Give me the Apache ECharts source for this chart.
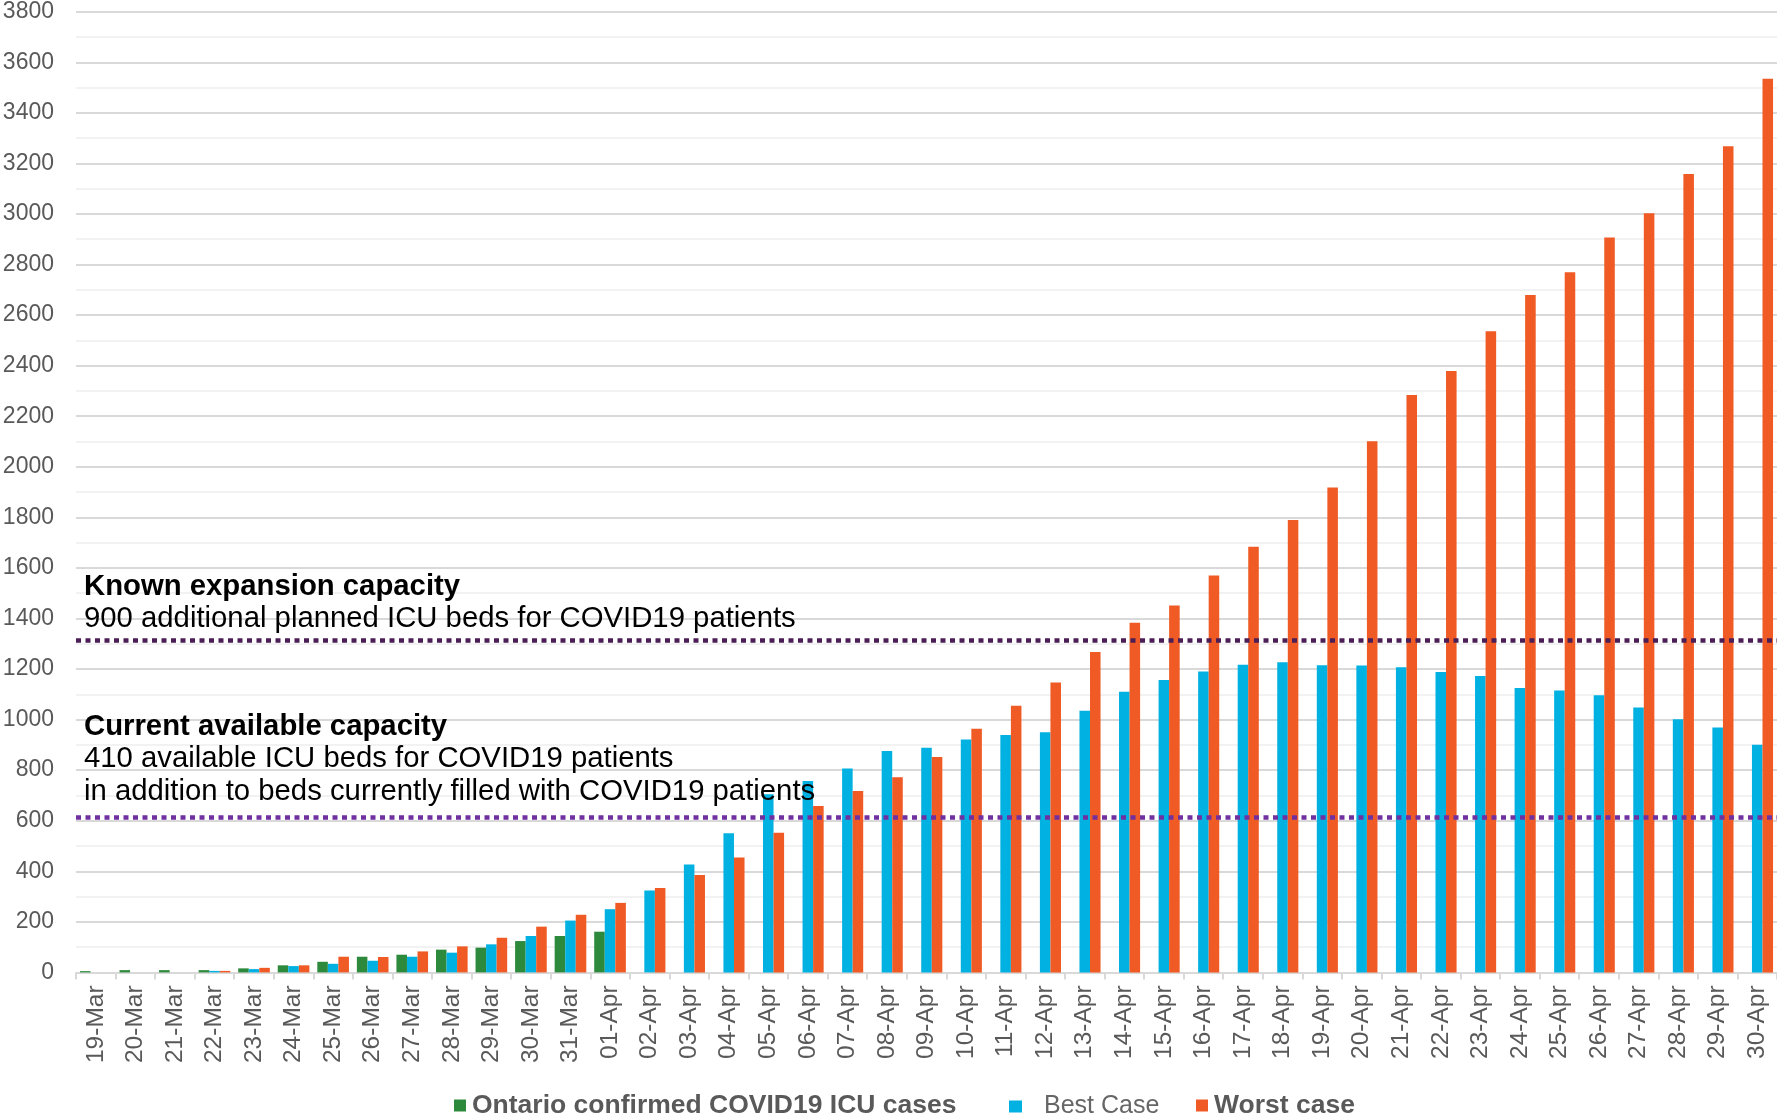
<!DOCTYPE html>
<html>
<head>
<meta charset="utf-8">
<script src="https://cdn.jsdelivr.net/npm/echarts@6/dist/echarts.min.js"></script>
<style>
  html, body { margin: 0; padding: 0; background: #ffffff; }
  #chart { width: 1777px; height: 1117px; }
</style>
</head>
<body>
<div id="chart"></div>
<script>
// ---- Data ----
const categories = [
  '19-Mar','20-Mar','21-Mar','22-Mar','23-Mar','24-Mar','25-Mar','26-Mar','27-Mar','28-Mar','29-Mar','30-Mar','31-Mar',
  '01-Apr','02-Apr','03-Apr','04-Apr','05-Apr','06-Apr','07-Apr','08-Apr','09-Apr','10-Apr','11-Apr','12-Apr','13-Apr',
  '14-Apr','15-Apr','16-Apr','17-Apr','18-Apr','19-Apr','20-Apr','21-Apr','22-Apr','23-Apr','24-Apr','25-Apr','26-Apr',
  '27-Apr','28-Apr','29-Apr','30-Apr'
];
const ontarioConfirmed = [
  5, 9, 9, 9, 16, 28, 42, 62, 70, 90, 98, 124, 144, 161,
  null, null, null, null, null, null, null, null, null, null, null, null, null, null, null,
  null, null, null, null, null, null, null, null, null, null, null, null, null, null
];
const bestCase = [
  null, null, null, 6, 13, 25, 34, 46, 62, 78, 111, 144, 205, 250,
  324, 427, 550, 705, 757, 807, 876, 889, 921, 939, 950, 1035,
  1110, 1157, 1190, 1217, 1227, 1215, 1214, 1207, 1188, 1172, 1125, 1115, 1096,
  1048, 1001, 969, 900
];
const worstCase = [
  null, null, null, 6, 18, 28, 62, 61, 83, 103, 137, 181, 228, 275,
  334, 385, 454, 552, 658, 718, 772, 852, 964, 1055, 1147, 1267,
  1383, 1451, 1570, 1684, 1789, 1918, 2101, 2284, 2379, 2536, 2679, 2769, 2907,
  3003, 3158, 3268, 3535
];
const expansionCapacity = 1313;
const currentCapacity = 615;
const seriesNames = ['Ontario confirmed COVID19 ICU cases', 'Best Case', 'Worst case'];

// ---- Chart ----
const chart = echarts.init(document.getElementById('chart'), null, { renderer: 'canvas' });
const FONT = '"Liberation Sans", Arial, sans-serif';
const textGray = '#595959';

const option = {
  backgroundColor: '#ffffff',
  animation: false,
  grid: { left: 76, right: 0, top: 11.7, bottom: 144.6, containLabel: false, outerBoundsMode: 'none' },
  legend: [
    {
      data: [seriesNames[0]], left: 449, top: 1087, icon: 'rect', itemWidth: 12, itemHeight: 12,
      textStyle: { color: textGray, fontFamily: FONT, fontSize: 26.5, fontWeight: 'bold', padding: [0, 0, 0, 1] }
    },
    {
      data: [seriesNames[1]], left: 1004, top: 1089, icon: 'rect', itemWidth: 13, itemHeight: 12,
      textStyle: { color: '#666666', fontFamily: FONT, fontSize: 25, fontWeight: 'normal', padding: [5, 0, 0, 17] }
    },
    {
      data: [seriesNames[2]], left: 1191, top: 1087, icon: 'rect', itemWidth: 12, itemHeight: 12,
      textStyle: { color: textGray, fontFamily: FONT, fontSize: 26.5, fontWeight: 'bold', padding: [0, 0, 0, 1] }
    }
  ],
  xAxis: {
    type: 'category',
    data: categories,
    boundaryGap: true,
    axisLine: { show: true, lineStyle: { color: '#d9d9d9', width: 2 } },
    axisTick: { show: true, length: 7, lineStyle: { color: '#d9d9d9', width: 2 } },
    axisLabel: { rotate: 90, margin: 13, color: textGray, fontFamily: FONT, fontSize: 24.5, interval: 0 },
    splitLine: { show: false }
  },
  yAxis: {
    type: 'value',
    min: 0, max: 3800, interval: 200,
    axisLine: { show: false },
    axisTick: { show: false },
    axisLabel: { margin: 22, color: textGray, fontFamily: FONT, fontSize: 23, formatter: function (v) { return String(v); } },
    splitLine: { show: true, lineStyle: { color: '#d9d9d9', width: 2 } },
    minorTick: { show: false, splitNumber: 2 },
    minorSplitLine: { show: true, lineStyle: { color: '#f2f2f2', width: 2 } }
  },
  series: [
    {
      name: seriesNames[0], type: 'bar', data: ontarioConfirmed,
      barGap: '0%', barCategoryGap: '20%',
      itemStyle: { color: '#2d8a3c' }
    },
    {
      name: seriesNames[1], type: 'bar', data: bestCase,
      barGap: '0%', barCategoryGap: '20%',
      itemStyle: { color: '#00b1e1' }
    },
    {
      name: seriesNames[2], type: 'bar', data: worstCase,
      barGap: '0%', barCategoryGap: '20%',
      itemStyle: { color: '#f05a24' },
      markLine: {
        silent: true,
        symbol: ['none', 'none'],
        z: 10,
        data: [
          {
            yAxis: expansionCapacity,
            lineStyle: { color: '#4b1f55', type: [5, 4.5], width: 4.5 },
            label: {
              show: true, position: 'insideStartTop', distance: [8, 6],
              formatter: '{b|Known expansion capacity}\n{n|900 additional planned ICU beds for COVID19 patients}',
              rich: {
                b: { fontFamily: FONT, fontSize: 29.3, fontWeight: 'bold', color: '#000', lineHeight: 32 },
                n: { fontFamily: FONT, fontSize: 29.3, color: '#000', lineHeight: 32 }
              }
            }
          },
          {
            yAxis: currentCapacity,
            lineStyle: { color: '#7030a0', type: [5, 4.5], width: 4.5 },
            label: {
              show: true, position: 'insideStartTop', distance: [8, 9],
              formatter: '{b|Current available capacity}\n{n|410 available ICU beds for COVID19 patients}\n{n|in addition to beds currently filled with COVID19 patients}',
              rich: {
                b: { fontFamily: FONT, fontSize: 29.3, fontWeight: 'bold', color: '#000', lineHeight: 32.5 },
                n: { fontFamily: FONT, fontSize: 29.3, color: '#000', lineHeight: 32.5 }
              }
            }
          }
        ]
      }
    }
  ]
};
chart.setOption(option);
</script>
</body>
</html>
